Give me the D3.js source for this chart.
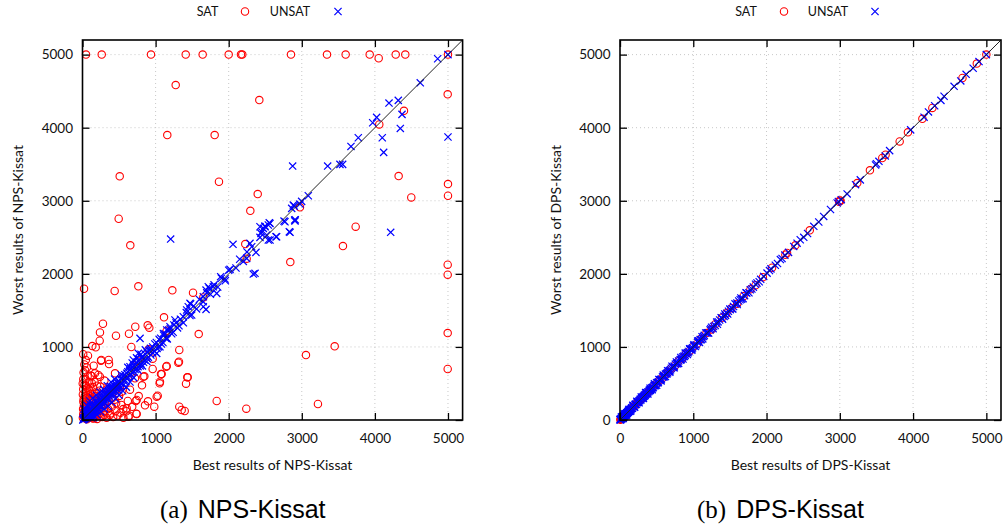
<!DOCTYPE html>
<html><head><meta charset="utf-8">
<script src="https://cdn.jsdelivr.net/npm/d3@7"></script>
<style>
body{margin:0;background:#fff;}
svg{display:block;}
</style></head>
<body>
<svg id="chart" width="1006" height="529"></svg>
<script>
// ---------------- data ----------------
const tickValues = [0, 1000, 2000, 3000, 4000, 5000];
const legendLabels = ["SAT", "UNSAT"];
const panelTitles = ["NPS-Kissat", "DPS-Kissat"];
const captionTags = ["(a)", "(b)"];

// NPS-Kissat: [best, worst]
const satNPS = [
 [48,5000],[263,5000],[937,5000],[1412,5000],[1644,5000],[2000,5000],[2168,5000],[2186,5000],[2852,5000],[3345,5000],[3600,5000],[3929,5000],[4052,4950],[4285,5000],[4416,5000],[5000,5000],
 [1275,4583],[2419,4378],[1160,3899],[1808,3899],[509,3334],[1867,3260],[2397,3092],[2296,2863],[495,2754],[4996,4456],[4398,4231],[4060,4045],[4325,3338],[5000,3228],[4498,3046],[5000,3069],[2975,2910],[3737,2645],[3563,2380],[2843,2161],[4996,2125],[4996,1988],[4996,1190],[3450,1008],[3057,889],[4996,698],[3221,219],
 [654,2390],[21,1796],[440,1765],[764,1829],[1229,1774],[1512,1742],[1653,1678],[1115,1405],[280,1317],[239,1199],[722,1276],[892,1295],[914,1263],[458,1153],[636,1180],[1152,1222],[1590,1176],[134,1012],[181,994],[235,1085],[668,999],[905,967],[1324,958],[153,743],[358,821],[363,766],[257,821],[764,811],[960,839],[1146,729],[1311,784],[11,557],[239,593],[171,639],[846,598],[1083,629],[1434,584],[1416,497],[1056,502],[814,475],[650,415],[769,328],[1029,333],[896,256],[728,260],[855,201],[982,182],[1324,182],[1398,123],[1836,260],[2241,155],[640,59],[736,86],[558,150],[531,205],[440,278],[513,456],[376,410],[244,456],[267,251],[294,160],[376,68],[2227,2408],[2246,2207],
 [126,602],[216,616],[445,639],[718,570],[536,387],[960,698],[832,593],[1060,524],[1074,629],[1152,739],[1320,798],[1439,584],[1015,319],[741,274],[604,160],[627,46],[741,82],[1357,137],[253,811],
 [5,350],[10,420],[15,280],[20,200],[25,480],[30,320],[35,150],[40,250],[45,380],[50,90],[55,300],[60,180],[65,440],[70,230],[75,120],[80,350],[85,60],[90,270],[95,190],[100,400],[105,140],[110,320],[115,70],[120,240],[125,160],[130,500],[140,290],[150,110],[160,210],[170,360],[180,130],[190,260],[200,60],[210,180],[220,310],[230,90],[250,200],[270,40],[290,120],[310,220],[330,30],[350,150],[380,90],[400,180],[420,40],[450,120],[480,60],[520,100],[560,30],[600,120],[20,40],[40,20],[60,10],[100,30],[150,20],[10,80],[30,60],[8,150],[12,250],[3,500],[160,40],[200,15],[250,50],[300,70],[140,25],[70,30],[5,30],[90,110],[130,70],[180,80],[15,650],[40,560],[60,720],[90,520],[110,610],[25,760],
 [35,680],[70,600],[50,470],[85,420],[140,450],[120,360],[165,520],[200,470],[230,400],[45,820],[10,900],[75,880],[190,330],[270,350],[330,420],[300,540],[360,260],[410,300],[460,230],[500,330],[620,260],[680,180],[20,120],[55,240],[95,60]
];
const unsatNPS = [
 [2875,3475],[3354,3475],[3522,3498],[3559,3498],[3673,3744],[3773,3862],[3970,4067],[4024,4141],[4101,3862],[4120,3662],[4193,4337],[4320,4374],[4371,4182],[4348,3990],[4621,4614],[4859,4943],[5000,3872],[5000,5000],[3089,3069],[2998,2992],[2884,2941],[2862,2896],[2757,2722],[2903,2736],[2555,2699],[2497,2645],[2428,2645],[4216,2568],[2839,2568],[2907,2722],[2647,2508],[2565,2462],[2520,2531],[2451,2576],[1206,2476],[2059,2404],[2337,1997],[2360,2007],[2897,2927],[2975,2955],[2911,2740],[2829,2576],[2542,2462],
 [2291,2417],[2315,2371],[2373,2294],[2246,2212],[2474,2622],[2497,2654],[2442,2554],[2428,2499],[2542,2668],[2565,2690],[2018,2061],[1954,1906],[1890,1961],[1836,1733],[1790,1824],[1721,1824],[1690,1778],[1653,1687],[1480,1587],[1447,1550],[2770,2713],[2656,2508],
 [1735,1801],[1653,1550],[1690,1514],[1471,1596],[1494,1436],[1425,1505],[1379,1413],[1265,1368],[1197,1276],[1152,1231],[1106,1185],[1142,1117],[1060,1003],[1015,912],[923,958],[787,1117],[764,912],[695,821],[650,729],
 [10,12],[20,25],[30,28],[40,45],[50,55],[60,58],[70,80],[80,75],[90,100],[100,95],[110,120],[120,115],[130,140],[140,130],[150,165],[160,150],[170,180],[180,190],[190,175],[200,215],[210,200],[220,240],[230,220],[240,260],[250,240],[260,275],[270,255],[280,300],[290,280],[300,320],[310,295],[320,345],[330,315],[340,360],[350,335],[360,390],[370,355],[380,400],[390,370],[400,430],[410,395],[420,445],[430,410],[440,470],[450,430],[460,490],[470,455],[480,510],[490,470],[500,530],[520,500],[540,580],[560,540],[580,620],[600,580],[620,660],[640,610],[660,700],[680,650],[700,740],[720,690],[740,790],[760,730],[780,820],[800,770],[820,870],[850,820],[880,930],[900,860],[930,980],[960,920],[990,1040],[1020,980],[1050,1100],[1080,1040],[1110,1160],[1150,1120],[1180,1230],[1220,1180],[1250,1300],[1300,1260],[1340,1380],[1380,1330],[1420,1470],[1470,1430],[1520,1560],[1560,1520],[1600,1650],[1650,1620],[1700,1740],[1750,1720],[1800,1850],[1850,1820],[1900,1940],[1950,1930],[2000,2050],[2100,2080],[2150,2200],[2200,2170],[2250,2300],
 [50,150],[100,220],[150,60],[200,120],[120,30],[30,100],[250,180],[300,230],[180,260],[350,280],[280,380],[420,350],[480,420],[380,460],[560,480],[530,620],
 [5,0],[15,30],[25,10],[35,60],[45,20],[55,80],[65,40],[75,110],[85,50],[95,130],[105,70],[115,150],[125,90],[135,170],[145,110],[155,190],[165,130],[175,210],[185,150],[195,230],[205,170],[215,250],[225,190],[235,270],[245,210],[255,290],[265,230],[275,310],[285,250],[295,330],[305,270],[315,350],[325,290],[335,370],[345,310],[355,390],[365,330],[375,410],[385,350],[395,430],[405,370],[415,450],[425,390],[435,470],[445,410],[455,490],[465,430],[475,510],[485,450],[495,530],[510,470],[525,560],[545,500],[565,600],[585,540],[605,640],[625,580],[645,680],[665,620],[685,720],[705,660],[725,760],[745,700],[765,800],[790,740],[810,850],[835,790],[860,900],[885,840],[910,950],[935,890],[960,1000],[985,940],[1010,1060],[1040,1000],[1070,1120],[1100,1060],[1130,1180],[1160,1110],[1200,1250],[1240,1200],[1280,1330],[1320,1290],
 [20,150],[60,200],[100,260],[140,300],[190,340],[240,380],[290,420],[340,470],[390,520],[440,560],[150,30],[200,70],[250,110],[300,150],[350,190],[400,240],[450,290],[500,340],[550,400],[600,450],[650,520],[700,580],[620,720],[680,780],[740,850],[800,900],[860,960],[760,680],[820,740],[880,800]
];

// DPS-Kissat: [best, worst]
const satDPS = [
 [5,5],[12,14],[20,18],[30,32],[45,44],[60,62],[75,73],[90,92],[110,108],[130,133],[150,148],[175,178],[200,197],[225,229],[250,248],[280,284],[310,306],[340,345],[370,366],[400,405],[430,427],[460,466],[500,495],[540,546],[580,575],[620,627],[660,655],[700,708],[750,744],[800,806],[850,845],[900,908],[950,944],[1000,1006],[1050,1040],[1100,1110],[1180,1190],[1250,1240],[1300,1310],[1390,1400],[1450,1460],[1520,1530],[1600,1590],[1687,1695],[1780,1790],[1850,1845],[1950,1955],[2075,2085],[2280,2285],[2257,2262],[2394,2390],[2590,2596],[2990,2985],[3000,3005],[3010,3000],[3238,3242],[3411,3416],[3580,3585],[3625,3630],[3817,3812],[3930,3936],[4127,4122],[4263,4270],[4674,4680],[4870,4878],[5000,5000]
];
const unsatDPS = [
 [0,2],[8,6],[15,17],[22,20],[28,30],[35,33],[42,45],[50,48],[58,60],[65,63],[72,75],[80,78],[88,90],[95,93],[102,105],[110,107],[118,120],[125,123],[135,138],[145,142],[155,158],[165,162],[180,183],[190,187],[205,208],[215,212],[235,238],[245,242],[260,263],[270,267],[290,293],[300,297],[320,323],[330,327],[350,353],[360,357],[380,383],[395,392],[410,413],[420,417],[440,443],[455,452],[470,473],[485,482],[510,513],[525,522],[550,553],[565,562],[590,593],[605,602],[635,638],[650,647],[675,678],[690,687],[720,723],[740,737],[770,773],[785,782],[820,823],[835,832],[870,873],[890,887],[920,923],[940,937],[970,973],[990,987],[1017,1020],[1060,1063],[1094,1100],[1140,1143],[1186,1190],[1230,1233],[1277,1280],[1340,1345],[1391,1395],[1420,1418],[1459,1462],[1505,1510],[1550,1552],[1596,1600],[1640,1645],[1700,1702],[1778,1782],[1820,1818],[1870,1875],[1920,1925],[1961,1965],[2007,2010],[2040,2045],[2120,2118],[2189,2195],[2212,2210],[2371,2375],[2417,2420],[2508,2500],[2645,2650],[2713,2710],[2873,2880],[2964,2970],[2980,2990],[3020,3015],[3215,3220],[3488,3490],[3534,3540],[3500,3506],[3967,3970],[4295,4300],[4423,4430],[4651,4640],[4724,4730],[4900,4905],[5000,5000],
 [3,10],[10,3],[18,25],[25,15],[32,40],[40,30],[48,56],[55,45],[62,70],[70,60],[78,86],[85,75],[92,100],[100,90],[108,116],[115,105],[122,130],[130,120],[140,148],[150,140],[160,168],[170,160],[185,193],[195,185],[210,218],[225,215],[240,248],[255,245],[275,283],[285,275],[305,313],[315,305],[335,343],[345,335],[365,373],[375,365],[400,408],[415,405],[430,438],[450,440],[465,473],[480,470],[500,508],[520,510],[540,548],[560,550],[580,588],[600,590],[620,628],[640,630],[660,668],[680,670],[700,708],[730,720],[755,763],[780,770],[800,808],[830,820],[855,863],[880,870],[905,913],[930,920],[955,963],[980,970],[1005,1013],[1040,1030],[1075,1083],[1110,1100],[1150,1158],[1200,1192],[1240,1248],[1300,1292],[1360,1368],[1440,1432],[1480,1488],[1530,1522],[1620,1628],[1660,1652],[1730,1738],[1800,1792],[1850,1858],[1900,1892],[2060,2068],[2150,2142],[2250,2256],[2300,2294],[2460,2466],[2560,2552],[2780,2786],[3100,3094],[3280,3286],[3620,3614],[3680,3686],[4150,4144],[4210,4216],[4380,4374],[4560,4566],[4820,4814],
 [1010,1030],[1030,1005],[1060,1080],[1085,1060],[1120,1140],[1130,1110],[1170,1190],[1210,1190],[1250,1270],[1270,1250],[1320,1340],[1330,1310],[1380,1400],[1400,1380],[1430,1450],[1470,1450],[1500,1520],[1540,1520],[1570,1590],[1600,1580],[1650,1670],[1680,1660],[1720,1740],[1760,1740],[20,45],[45,20],[60,85],[90,65],[120,145],[145,120],[175,200],[200,175],[230,255],[260,235],[290,315],[320,295],[350,375],[380,355],[410,435],[440,415],[470,495],[500,475],[530,555],[560,535],[590,615],[620,595],[650,675],[680,655],[710,735],[740,715],[770,795],[800,775],[830,855],[860,835],[890,915],[920,895],[950,975],[980,955]
];

// ---------------- drawing ----------------
const svg = d3.select("#chart");
const FONT = "Lato, 'Open Sans', sans-serif";
const DOMAIN = [0, 5200];

const panels = [
  {x0: 82.5, x1: 462.6, sat: satNPS, unsat: unsatNPS, title: panelTitles[0], tag: captionTags[0],
   ytitleX: 18, legend: {satText: 207.5, satMark: 245, unsatText: 290, unsatMark: 338}, caption: 160},
  {x0: 620, x1: 1001, sat: satDPS, unsat: unsatDPS, title: panelTitles[1], tag: captionTags[1],
   ytitleX: 556, legend: {satText: 746, satMark: 784, unsatText: 828, unsatMark: 875}, caption: 697}
];
const yTop = 40, yBot = 420;
const crossS = 3.6;

panels.forEach(p => {
  const g = svg.append("g");
  const x = d3.scaleLinear().domain(DOMAIN).range([p.x0, p.x1]);
  const y = d3.scaleLinear().domain(DOMAIN).range([yBot, yTop]);

  // grid
  const grid = g.append("g").attr("stroke", "#c8c8c8").attr("stroke-width", 1).attr("stroke-dasharray", "1,3");
  tickValues.filter(t => t > 0).forEach(t => {
    grid.append("line").attr("x1", x(t)).attr("x2", x(t)).attr("y1", yBot).attr("y2", yTop);
    grid.append("line").attr("x1", p.x0).attr("x2", p.x1).attr("y1", y(t)).attr("y2", y(t));
  });

  // SAT circles first, UNSAT crosses on top
  const ci = g.append("g").attr("stroke", "#ff0000").attr("stroke-width", 1.1).attr("fill", "none");
  ci.selectAll("circle").data(p.sat).join("circle")
    .attr("cx", d => x(d[0])).attr("cy", d => y(d[1])).attr("r", 3.7);
  const cr = g.append("g").attr("stroke", "#0000ff").attr("stroke-width", 1.2).attr("fill", "none");
  cr.selectAll("path").data(p.unsat).join("path")
    .attr("d", d => {
      const cx = x(d[0]), cy = y(d[1]);
      return `M${cx-crossS},${cy-crossS}L${cx+crossS},${cy+crossS}M${cx-crossS},${cy+crossS}L${cx+crossS},${cy-crossS}`;
    });

  // diagonal
  g.append("line").attr("x1", x(0)).attr("y1", y(0)).attr("x2", x(DOMAIN[1])).attr("y2", y(DOMAIN[1]))
    .attr("stroke", "#222").attr("stroke-width", 1);

  // axes
  const styleAxis = sel => {
    sel.select(".domain").remove();
    sel.selectAll(".tick line").attr("stroke", "#000").attr("stroke-width", 1.3);
    sel.selectAll("text").attr("font-family", FONT).attr("font-size", 13.5).attr("fill", "#111");
  };
  g.append("g").attr("transform", `translate(0,${yBot})`)
    .call(d3.axisBottom(x).tickValues(tickValues).tickSizeInner(-7).tickSizeOuter(0).tickPadding(13).tickFormat(d3.format("d")))
    .call(styleAxis);
  g.append("g").attr("transform", `translate(${p.x0},0)`)
    .call(d3.axisLeft(y).tickValues(tickValues).tickSizeInner(-7).tickSizeOuter(0).tickPadding(9.5).tickFormat(d3.format("d")))
    .call(styleAxis);
  g.append("g").attr("transform", `translate(0,${yTop})`)
    .call(d3.axisTop(x).tickValues(tickValues).tickSizeInner(-7).tickSizeOuter(0).tickFormat(""))
    .call(styleAxis);
  g.append("g").attr("transform", `translate(${p.x1},0)`)
    .call(d3.axisRight(y).tickValues(tickValues).tickSizeInner(-7).tickSizeOuter(0).tickFormat(""))
    .call(styleAxis);

  // frame
  g.append("rect").attr("x", p.x0).attr("y", yTop).attr("width", p.x1 - p.x0).attr("height", yBot - yTop)
    .attr("fill", "none").attr("stroke", "#000").attr("stroke-width", 1.6);

  // axis titles
  g.append("text").attr("x", (p.x0 + p.x1) / 2).attr("y", 470)
    .attr("text-anchor", "middle").attr("font-family", FONT).attr("font-size", 14).attr("fill", "#111")
    .text("Best results of " + p.title);
  g.append("text").attr("transform", `translate(${p.ytitleX + 5},${(yTop + yBot) / 2}) rotate(-90)`)
    .attr("text-anchor", "middle").attr("font-family", FONT).attr("font-size", 14).attr("fill", "#111")
    .text("Worst results of " + p.title);

  // legend
  const L = p.legend;
  g.append("text").attr("x", L.satText).attr("y", 16).attr("text-anchor", "middle")
    .attr("font-family", FONT).attr("font-size", 12.5).attr("fill", "#111").text(legendLabels[0]);
  g.append("circle").attr("cx", L.satMark).attr("cy", 11.5).attr("r", 3.7)
    .attr("fill", "none").attr("stroke", "#ff0000").attr("stroke-width", 1.1);
  g.append("text").attr("x", L.unsatText).attr("y", 16).attr("text-anchor", "middle")
    .attr("font-family", FONT).attr("font-size", 12.5).attr("fill", "#111").text(legendLabels[1]);
  g.append("path").attr("d", `M${L.unsatMark-crossS},${11.5-crossS}L${L.unsatMark+crossS},${11.5+crossS}M${L.unsatMark-crossS},${11.5+crossS}L${L.unsatMark+crossS},${11.5-crossS}`)
    .attr("stroke", "#0000ff").attr("stroke-width", 1.2).attr("fill", "none");

  // caption
  const cap = g.append("text").attr("x", p.caption).attr("y", 518).attr("font-size", 25).attr("fill", "#000");
  cap.append("tspan").attr("font-family", "'Liberation Serif', 'DejaVu Serif', serif").text(p.tag);
  cap.append("tspan").attr("font-family", "'Liberation Sans', Arial, sans-serif").attr("dx", 10).text(p.title);
});
</script>
</body></html>
